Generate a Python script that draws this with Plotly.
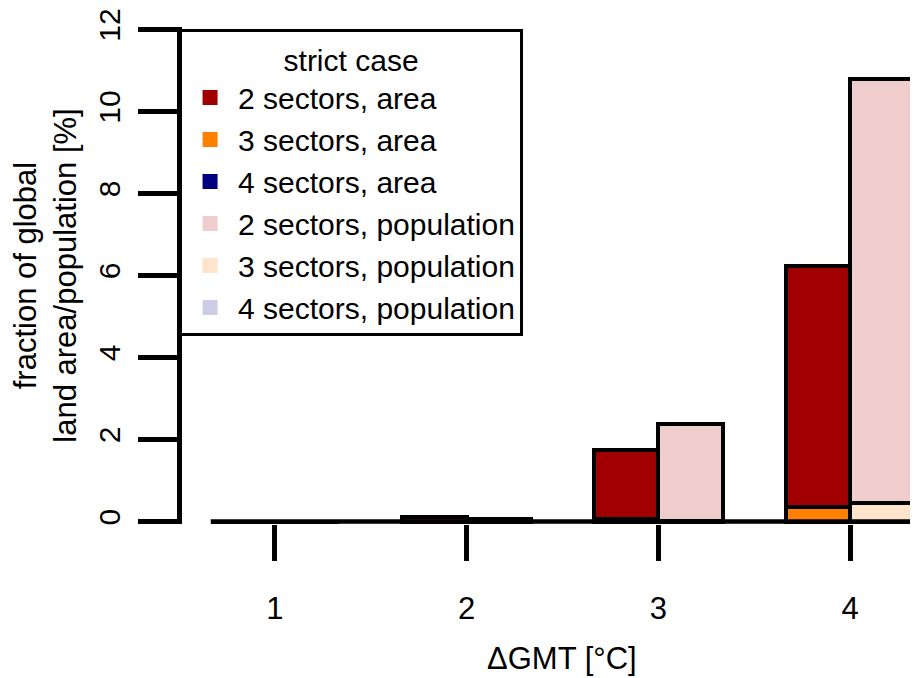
import plotly.graph_objects as go

# warming levels and tick labels
groups = [1, 2, 3, 4]
tick_text = ["1", "2", "3", "4"]
y_ticks = [0, 2, 4, 6, 8, 10, 12]

# stacked segments (% of global land area / population)
area_2 = [0.0, 0.12, 1.70, 5.87]
area_3 = [0.0, 0.0, 0.05, 0.36]
area_4 = [0.0, 0.0, 0.0, 0.0]
pop_2 = [0.0, 0.07, 2.37, 10.34]
pop_3 = [0.0, 0.0, 0.02, 0.46]
pop_4 = [0.0, 0.0, 0.0, 0.0]

names = ["2 sectors, area", "3 sectors, area", "4 sectors, area",
         "2 sectors, population", "3 sectors, population", "4 sectors, population"]
colors = ["#A00000", "#FF7F00", "#000080", "#EFCDCD", "#FFE4CC", "#CCCCE6"]

font = "Liberation Sans, Arial, sans-serif"
bar_w = 0.335
x_area = [g - bar_w / 2 for g in groups]
x_pop = [g + bar_w / 2 for g in groups]

fig = go.Figure()

# bottom to top: 4 sectors, 3 sectors, 2 sectors
for xs, vals, cols in [(x_area, [area_4, area_3, area_2], [colors[2], colors[1], colors[0]]),
                       (x_pop, [pop_4, pop_3, pop_2], [colors[5], colors[4], colors[3]])]:
    for v, c in zip(vals, cols):
        fig.add_trace(go.Bar(x=xs, y=v, width=bar_w, marker=dict(color=c, line=dict(color="black", width=4.5)),
                             showlegend=False, hoverinfo="skip"))

# legend entries (plain squares, no outline)
for n, c in zip(names, colors):
    fig.add_trace(go.Scatter(x=[None], y=[None], mode="markers", name=n,
                             marker=dict(symbol="square", size=15, color=c)))

# baseline under the bars
fig.add_shape(type="line", x0=groups[0] - bar_w, x1=groups[-1] + bar_w, y0=0, y1=0,
              line=dict(color="black", width=4.5), layer="above")

fig.add_annotation(text="\u0394GMT [\u00b0C]", xref="paper", yref="paper", x=0.516, y=-0.27,
                   showarrow=False, xanchor="center", yanchor="middle", font=dict(size=31, color="black"))

fig.update_xaxes(range=[0.515, 4.354], tickvals=groups, ticktext=tick_text, ticks="outside", ticklen=36,
                 tickwidth=4.5, tickcolor="black", showline=False, showgrid=False, zeroline=False,
                 tickfont=dict(size=31, color="black"), ticklabelstandoff=21, automargin=False)
fig.update_yaxes(range=[-0.06, 12.06], tickvals=y_ticks, ticks="outside", ticklen=39, tickwidth=4.5,
                 tickcolor="black", showline=True, linewidth=4.5, linecolor="black", showgrid=False,
                 zeroline=False, tickangle=-90, tickfont=dict(size=30, color="black"), ticklabelstandoff=6,
                 ticklabeloverflow="allow", automargin=False,
                 title=dict(text="fraction of global<br>land area/population [%]", font=dict(size=31, color="black"),
                            standoff=12))

# the page body adds an 8px offset, so the figure is 8px smaller on each side
fig.update_layout(
    width=910, height=670, barmode="stack", bargap=0,
    margin=dict(l=174, r=0, t=19, b=154),
    plot_bgcolor="white", paper_bgcolor="white",
    font=dict(family=font, color="black"),
    legend=dict(x=-0.004, y=0.995, xanchor="left", yanchor="top", bgcolor="white", bordercolor="black",
                borderwidth=3, font=dict(size=30), tracegroupgap=0, traceorder="normal", itemwidth=46,
                title=dict(text="strict case", side="top center", font=dict(size=30))),
)

fig.write_html("out.html")
